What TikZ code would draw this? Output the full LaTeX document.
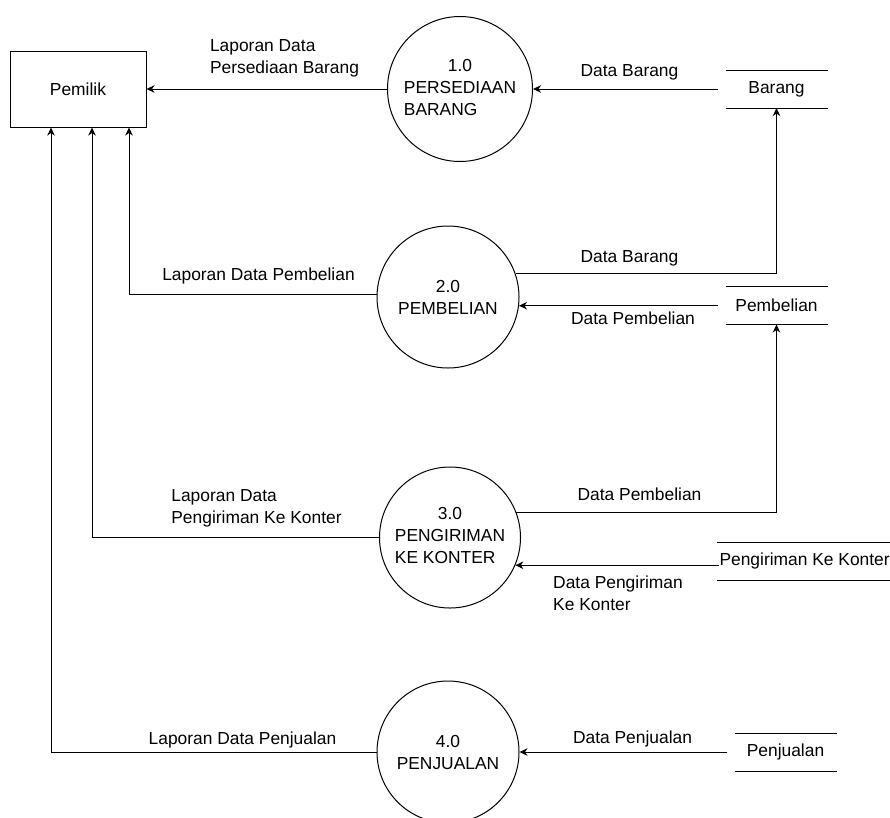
\documentclass[tikz,border=0pt]{standalone}
\usepackage{fontspec}
\setmainfont{Liberation Sans}
\usetikzlibrary{arrows.meta}
\begin{document}
\begin{tikzpicture}[x=1pt, y=-1pt, line width=1pt,
        font=\fontsize{17.4pt}{22pt}\selectfont,
        >={Stealth[length=8pt, width=7.5pt, inset=2.5pt]},
        entity/.style={draw, rectangle, minimum width=136pt, minimum height=76pt},
        process/.style={draw, circle, align=center, inner sep=0pt},
        store/.style={rectangle, minimum height=37pt, inner xsep=2pt},
        flowlabel/.style={align=left, inner sep=0pt}]

        \useasboundingbox (0,0) rectangle (890,817);

        % External entity
        \node[entity] (pemilik) at (78,89) {Pemilik};

        % Processes
        \node[process, minimum size=145pt] (p1) at (460,89)
            {\begin{tabular}{@{}l@{}}\multicolumn{1}{@{}c@{}}{1.0}\\PERSEDIAAN\\BARANG\end{tabular}};
        \node[process, minimum size=142pt] (p2) at (448,297) {2.0\\PEMBELIAN};
        \node[process, minimum size=141pt] (p3) at (450,537.5)
            {\begin{tabular}{@{}l@{}}\multicolumn{1}{@{}c@{}}{3.0}\\PENGIRIMAN\\KE KONTER\end{tabular}};
        \node[process, minimum size=142pt] (p4) at (448,752) {4.0\\PENJUALAN};

        % Data stores
        \node[store, minimum width=101pt] (barang) at (776.5,89) {Barang};
        \node[store, minimum width=101pt] (pembelian) at (776.5,305.5) {Pembelian};
        \node[store, anchor=west] (kirim) at (717,561) {Pengiriman Ke Konter};
        \node[store, minimum width=101pt] (penjualan) at (785.5,752) {Penjualan};
        \foreach \s in {barang, pembelian, kirim, penjualan}
            \draw (\s.north west) -- (\s.north east) (\s.south west) -- (\s.south east);

        % 1.0 Persediaan Barang
        \draw[->, shorten <=8pt] (barang.west) -- (p1.east);
        \node[flowlabel] (lb1) at (629.5,72) {Data Barang};
        \draw[->] (p1.west) -- (pemilik.east);
        \node[flowlabel] (lb2) at (284.5,58.5) {Laporan Data\\Persediaan Barang};

        % 2.0 Pembelian
        \draw[->] (p2.19) -| (barang.south);
        \node[flowlabel] (lb3) at (629.5,258) {Data Barang};
        \draw[->, shorten <=8pt] (pembelian.west |- p2.-7) -- (p2.-7);
        \node[flowlabel] (lb4) at (633,318) {Data Pembelian};
        \draw[->] (p2.178) -| ([xshift=51pt]pemilik.south);
        \node[flowlabel] (lb5) at (258.5,276) {Laporan Data Pembelian};

        % 3.0 Pengiriman ke konter
        \draw[->] (p3.21) -| (pembelian.south);
        \node[flowlabel] (lb6) at (639.5,494) {Data Pembelian};
        \draw[->, shorten <=-2pt] (kirim.west |- p3.-23) -- (p3.-23);
        \node[flowlabel] (lb7) at (618,593.5) {Data Pengiriman\\Ke Konter};
        \draw[->] (p3.west) -| ([xshift=14pt]pemilik.south);
        \node[flowlabel] (lb8) at (256.5,508.5) {Laporan Data\\Pengiriman Ke Konter};

        % 4.0 Penjualan
        \draw[->, shorten <=8pt] (penjualan.west) -- (p4.east);
        \node[flowlabel] (lb9) at (632.5,739) {Data Penjualan};
        \draw[->] (p4.west) -| ([xshift=-27pt]pemilik.south);
        \node[flowlabel] (lb10) at (242.5,740) {Laporan Data Penjualan};

\end{tikzpicture}
\end{document}
